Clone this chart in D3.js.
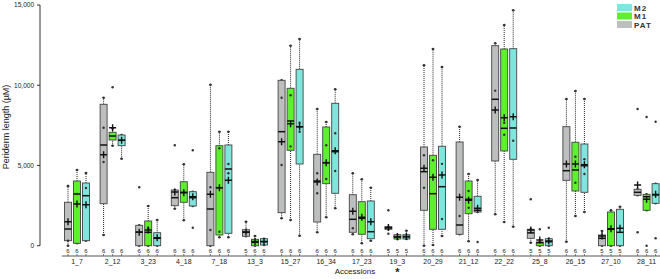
<!DOCTYPE html>
<meta charset="utf-8">
<html>
<head>
<style>
  body { margin: 0; background: #fff; }
  svg text { font-family: "Liberation Sans", Arial, sans-serif; fill: #222; }
</style>
<script src="https://d3js.org/d3.v7.min.js"></script>
</head>
<body>
<div id="chart"></div>
<script>
// accessions along the x axis
const accessions = ["1_7", "2_12", "3_23", "4_18", "7_18", "13_3", "15_27", "16_34", "17_23",
  "19_3", "20_29", "21_12", "22_22", "25_8", "26_15", "27_10", "28_11"];
const seriesNames = ["PAT", "M1", "M2"];
const seriesColors = ["#bdbfbe", "#5eef2e", "#7ee6dc"];
const yTicks = [0, 5000, 10000, 15000];

// box stats per accession: [whiskerLow, q1, median, q3, whiskerHigh, mean]
const patStats = [
  [0, 312, 1040, 2705, 3720, 1496], [667, 2617, 6276, 8812, 9224, 5671], [0, 0, 850, 1271, 1271, 835],
  [2306, 2493, 2991, 3471, 3471, 3346], [0, 0, 2287, 4574, 10034, 3203], [586, 586, 835, 997, 1496, 850],
  [1708, 2057, 7105, 10307, 10307, 6481], [835, 1476, 4032, 5696, 8519, 3970], [710, 835, 1645, 3178, 4512, 2144],
  [1022, 1022, 1103, 1184, 1184, 1130], [0, 2206, 4612, 6151, 11243, 4823], [710, 710, 1290, 6463, 7417, 3016],
  [1957, 5279, 9124, 12464, 12613, 8457], [187, 461, 800, 1022, 1022, 978], [249, 4076, 4674, 7417, 9142, 5091],
  [0, 0, 461, 667, 916, 600], [3141, 3141, 3328, 3515, 3515, 3783]
];
const m1Stats = [
  [150, 150, 3222, 4032, 4717, 2598], [6232, 6587, 6836, 7067, 7300, 7355], [0, 0, 835, 1539, 2474, 978],
  [1583, 2705, 3328, 3988, 5073, 3300], [523, 667, 3615, 6232, 7105, 3615], [0, 0, 212, 399, 604, 260],
  [1601, 5945, 7771, 9809, 12464, 7603], [1770, 3865, 5173, 7397, 7709, 5173], [150, 710, 1708, 2742, 4138, 1770],
  [418, 418, 542, 686, 686, 560], [44, 1022, 3241, 5633, 12258, 4262], [274, 1995, 2892, 4032, 4468, 2830],
  [1476, 5902, 7316, 12258, 13754, 7977], [0, 0, 187, 231, 231, 355], [1851, 3409, 4718, 6444, 9641, 5091],
  [0, 0, 1022, 2100, 2206, 1060], [2206, 2206, 3054, 3203, 3203, 2892]
];
const m2Stats = [
  [312, 312, 3116, 3908, 4530, 2555], [5422, 6232, 6568, 6899, 6899, 6568], [0, 0, 461, 810, 1601, 500],
  [2474, 2474, 2991, 3365, 3365, 3050], [523, 773, 4780, 6276, 7105, 4076], [44, 44, 249, 436, 436, 260],
  [623, 5091, 7417, 10993, 12882, 7417], [2331, 3266, 5858, 8874, 9747, 5920], [312, 436, 872, 2786, 3615, 1496],
  [418, 418, 542, 686, 935, 580], [604, 1022, 3677, 6195, 11137, 4406], [2100, 2100, 2206, 3079, 4094, 2331],
  [1184, 5384, 7335, 12277, 14670, 8040], [0, 0, 250, 436, 436, 300], [2100, 3328, 4986, 6338, 9142, 5050],
  [0, 0, 835, 2268, 2430, 1084], [2642, 2642, 3160, 3865, 3865, 3200]
];

// individual points (outliers and observations drawn inside boxes)
const patPoints = [[3720, 312], [7355, 5216], [3640], [6257], [3640, 978], [], [9224, 5029], [4512, 3266], [1084],
  [2206, 748], [5633, 3615], [1851], [9662], [2892], [], [], [8519, 835]];
const m1Points = [[3222], [9871], [1084], [], [6070, 872], [], [9372, 6189], [6257, 4157], [],
  [], [5322], [3409, 2368], [7666, 6918], [1022], [5546, 3927], [], [8021, 0]];
const m2Points = [[3600], [], [], [5945, 1122], [5091, 4512], [], [7666, 7105], [7005, 4655], [],
  [], [5100, 1664], [231], [6544], [1122], [5384, 4468], [], [7728, 461]];

// sample sizes
const patN = [6, 6, 6, 6, 6, 5, 6, 6, 6, 5, 6, 6, 6, 5, 6, 5, 6];
const m1N = [6, 6, 6, 6, 6, 6, 6, 6, 6, 5, 6, 6, 6, 5, 6, 5, 6];
const m2N = [6, 6, 6, 6, 6, 6, 6, 6, 6, 5, 6, 6, 6, 5, 6, 5, 6];

const allStats = [patStats, m1Stats, m2Stats];
const allPoints = [patPoints, m1Points, m2Points];
const allN = [patN, m1N, m2N];

const width = 660, height = 279;
const svg = d3.select("#chart").append("svg")
  .attr("width", width).attr("height", height);

const x = d3.scaleBand().domain(accessions).range([59.2, 664.4]);
const y = d3.scaleLinear().domain([0, 15000]).range([245.7, 5]);
const inner = d3.scaleBand().domain(seriesNames).range([-13.5, 13.5]);
const boxW = 7;

const cx = (i, s) => x(accessions[i]) + x.bandwidth() / 2 + inner(seriesNames[s]) + inner.bandwidth() / 2;

// y axis
const yAxis = svg.append("g").attr("transform", "translate(40,0)");
yAxis.append("line").attr("y1", y(15000)).attr("y2", y(0)).attr("stroke", "#333").attr("stroke-width", 1);
yTicks.forEach(t => {
  yAxis.append("line").attr("x1", -3).attr("x2", 0).attr("y1", y(t)).attr("y2", y(t))
    .attr("stroke", "#333");
  yAxis.append("text").attr("x", -6).attr("y", y(t)).attr("dy", "0.35em")
    .attr("text-anchor", "end").style("font-size", "6.5px").text(d3.format(",")(t));
});
svg.append("text")
  .attr("transform", "translate(9,127) rotate(-90)")
  .attr("text-anchor", "middle").style("font-size", "9px")
  .text("Periderm length (µM)");

// x axis line, ticks, counts and labels
svg.append("line").attr("x1", 62).attr("x2", 660).attr("y1", 256).attr("y2", 256)
  .attr("stroke", "#555").attr("stroke-width", 1);

seriesNames.forEach((name, s) => {
  accessions.forEach((a, i) => {
    const px = cx(i, s);
    svg.append("line").attr("x1", px).attr("x2", px).attr("y1", 254).attr("y2", 256)
      .attr("stroke", "#555").attr("stroke-width", 0.8);
    svg.append("text").attr("x", px).attr("y", 253.3).attr("text-anchor", "middle")
      .style("font-size", "6px").text(allN[s][i]);
  });
});

svg.selectAll(".acc").data(accessions).enter().append("text")
  .attr("x", d => x(d) + x.bandwidth() / 2).attr("y", 264)
  .attr("text-anchor", "middle").style("font-size", "7px").text(d => d);

svg.append("text").attr("x", 355).attr("y", 273.5).attr("text-anchor", "middle")
  .style("font-size", "8px").text("Accessions");
svg.append("text").attr("x", x("19_3") + x.bandwidth() / 2).attr("y", 276)
  .attr("text-anchor", "middle").style("font-size", "11px").style("font-weight", "bold").text("*");

// boxes
seriesNames.forEach((name, s) => {
  const g = svg.append("g");
  allStats[s].forEach((st, i) => {
    const [lo, q1, med, q3, hi, mean] = st;
    const px = cx(i, s);
    // whiskers
    [[q3, hi], [lo, q1]].forEach(([a, b]) => {
      if (b - a > 1) {
        g.append("line").attr("x1", px).attr("x2", px).attr("y1", y(a)).attr("y2", y(b))
          .attr("stroke", "#222").attr("stroke-width", 1).attr("stroke-dasharray", "1,1");
      }
    });
    [lo, hi].forEach(v => {
      g.append("line").attr("x1", px - 1.5).attr("x2", px + 1.5).attr("y1", y(v)).attr("y2", y(v))
        .attr("stroke", "#222").attr("stroke-width", 0.8);
      g.append("circle").attr("cx", px).attr("cy", y(v)).attr("r", 1.2).attr("fill", "#333");
    });
    // box
    g.append("rect").attr("x", px - boxW / 2).attr("width", boxW)
      .attr("y", y(q3)).attr("height", Math.max(y(q1) - y(q3), 1.5))
      .attr("fill", seriesColors[s]).attr("stroke", "#444").attr("stroke-width", 0.9);
    // median
    g.append("line").attr("x1", px - boxW / 2).attr("x2", px + boxW / 2)
      .attr("y1", y(med)).attr("y2", y(med)).attr("stroke", "#111").attr("stroke-width", 1.5);
    // points
    allPoints[s][i].forEach(v => {
      g.append("circle").attr("cx", px).attr("cy", y(v)).attr("r", 1.2).attr("fill", "#333");
    });
    // mean cross
    g.append("path")
      .attr("d", "M" + (px - 3.5) + "," + y(mean) + "h7M" + px + "," + (y(mean) - 3.5) + "v7")
      .attr("stroke", "#111").attr("stroke-width", 1.4).attr("fill", "none");
  });
});

// legend
const legendOrder = [2, 1, 0];
legendOrder.forEach((s, k) => {
  const ly = 4 + k * 8.5;
  svg.append("rect").attr("x", 617).attr("y", ly).attr("width", 15).attr("height", 7)
    .attr("fill", seriesColors[s]);
  svg.append("text").attr("x", 634).attr("y", ly + 6.5)
    .style("font-size", "8px").style("font-weight", "bold").style("letter-spacing", "1px")
    .style("fill", "#333").text(seriesNames[s]);
});
</script>
</body>
</html>
